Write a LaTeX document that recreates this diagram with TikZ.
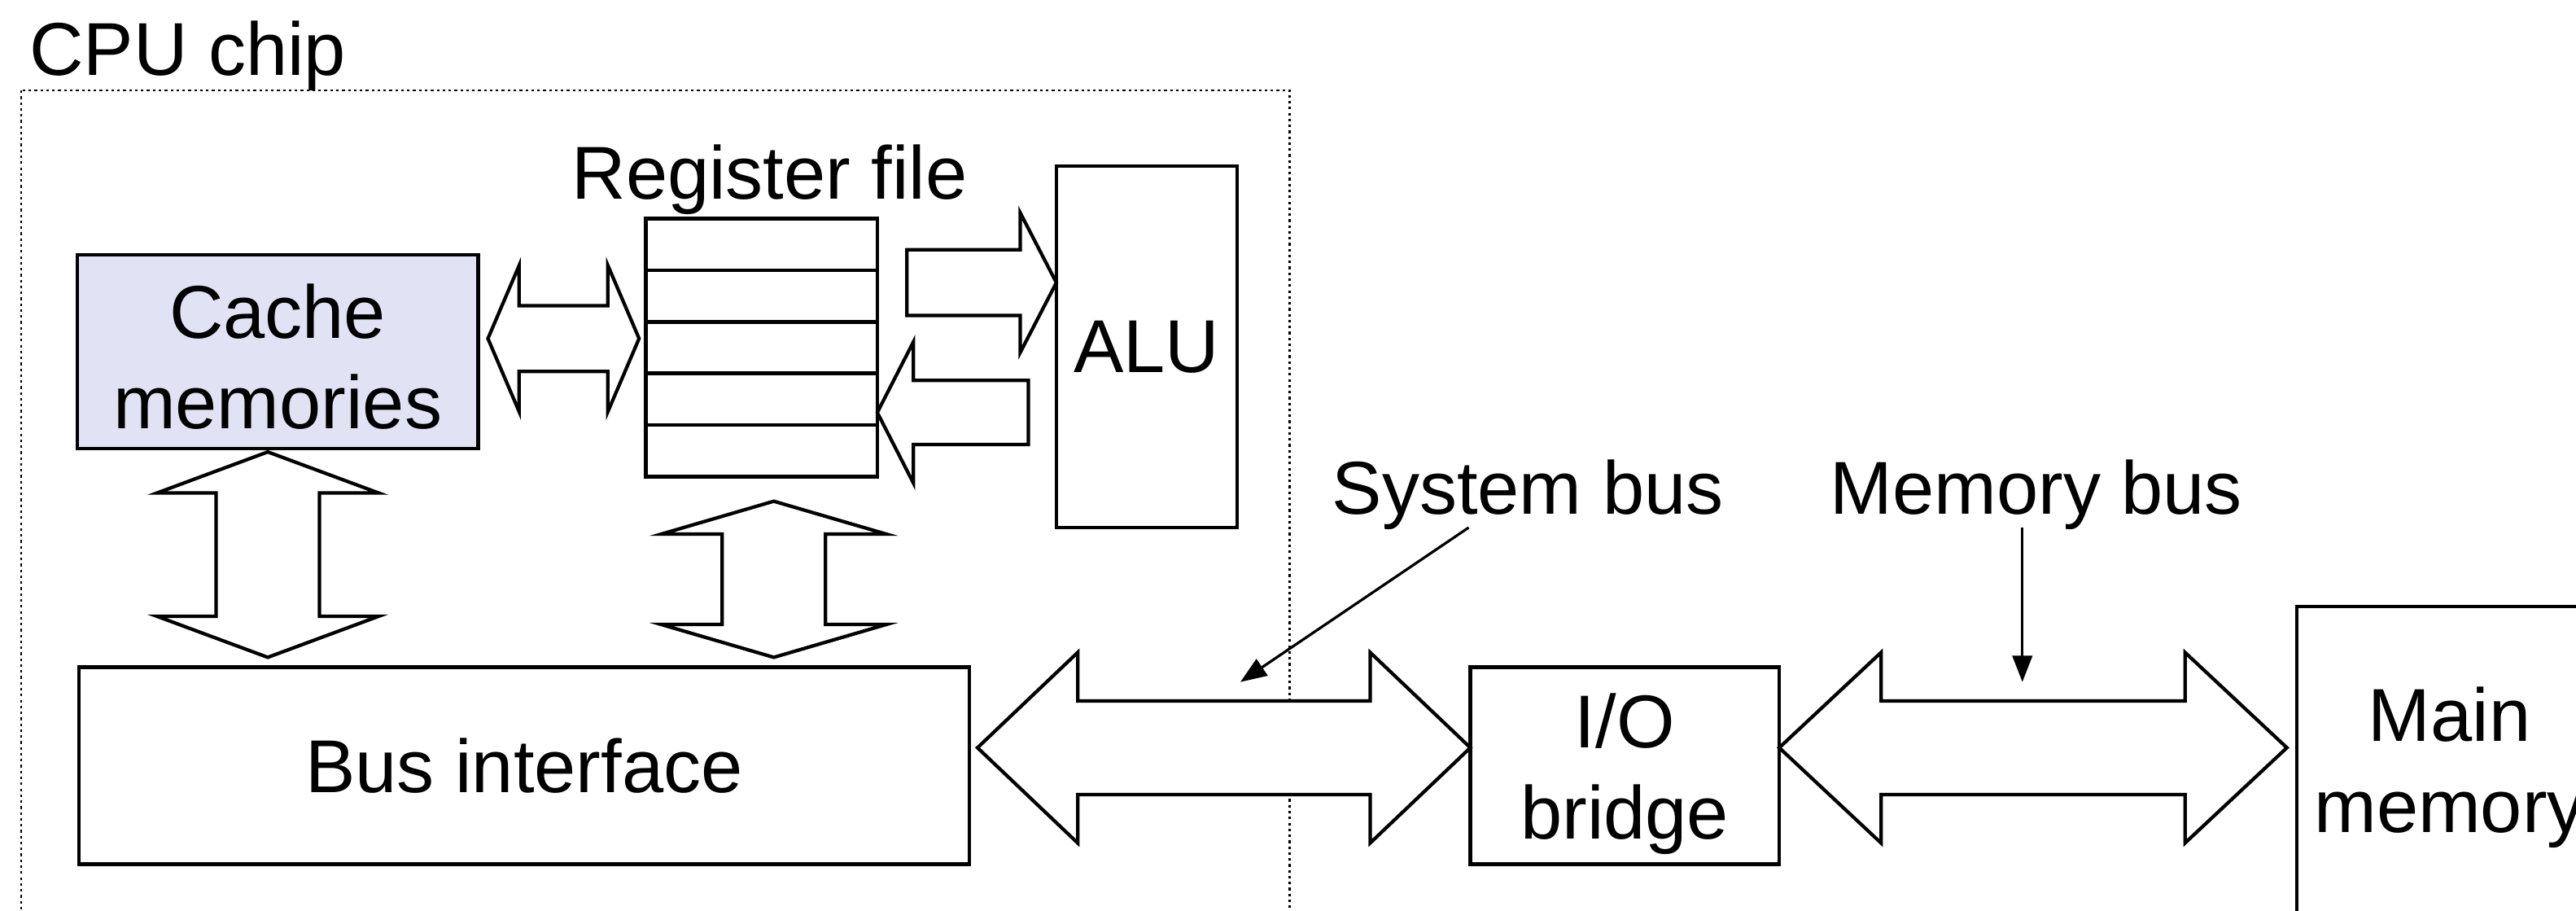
\documentclass[tikz,border=0pt]{standalone}
\usepackage{fontspec}
\setmainfont{Liberation Sans}
\usetikzlibrary{calc,arrows.meta}
\definecolor{cachefill}{RGB}{226,226,245}
\newcommand\hbus[5]{\draw[blk] (#1) -- ($(#1)+(#5,#4)$) -- ($(#1)+(#5,#3)$) -- ($(#2)+(-#5,#3)$) -- ($(#2)+(-#5,#4)$) -- (#2) -- ($(#2)+(-#5,-#4)$) -- ($(#2)+(-#5,-#3)$) -- ($(#1)+(#5,-#3)$) -- ($(#1)+(#5,-#4)$) -- cycle;}
\newcommand\vbus[5]{\draw[blk] (#1) -- ($(#1)+(#4,-#5)$) -- ($(#1)+(#3,-#5)$) -- ($(#2)+(#3,#5)$) -- ($(#2)+(#4,#5)$) -- (#2) -- ($(#2)+(-#4,#5)$) -- ($(#2)+(-#3,#5)$) -- ($(#1)+(-#3,-#5)$) -- ($(#1)+(-#4,-#5)$) -- cycle;}
\newcommand\rblk[5]{\draw[blk] ($(#1)+(0,#3)$) -- ($(#2)+(-#5,#3)$) -- ($(#2)+(-#5,#4)$) -- (#2) -- ($(#2)+(-#5,-#4)$) -- ($(#2)+(-#5,-#3)$) -- ($(#1)+(0,-#3)$) -- cycle;}
\newcommand\lblk[5]{\draw[blk] ($(#1)+(0,#3)$) -- ($(#2)+(#5,#3)$) -- ($(#2)+(#5,#4)$) -- (#2) -- ($(#2)+(#5,-#4)$) -- ($(#2)+(#5,-#3)$) -- ($(#1)+(0,-#3)$) -- cycle;}
\tikzset{
  txt/.style={font=\fontsize{22.8}{27.7}\selectfont, inner sep=0pt, outer sep=0pt},
  box/.style={txt, draw, line width=1.15pt, rectangle, align=center},
  inner/.style={txt, align=center},
  blk/.style={draw, fill=white, line width=1.05pt, line join=miter},
  chip/.style={draw, line width=0.6pt, dash pattern=on 0.8pt off 1pt},
  pointer/.style={draw, line width=0.8pt, -{Triangle[length=8pt,width=6pt]}}
}
\begin{document}
\begin{tikzpicture}[x=0.5pt,y=0.5pt]
\useasboundingbox (0,0) rectangle (1568,-554);
\clip (0,0) rectangle (1568,-554);
% CPU chip region
\coordinate (chipnw) at (13,-55);
\coordinate (chipse) at (785,-600);
\draw[chip] (chipnw) rectangle (chipse);
\node[txt, anchor=base west] (chiplabel) at (18,-46) {CPU chip};
% components
\node[box, fill=cachefill, minimum width=122pt, minimum height=59pt,
  label={[inner, yshift=-1.5pt]center:{Cache\\memories}}] (cache) at (169,-214) {};
\node[box, minimum width=70.5pt, minimum height=78.5pt] (rf) at (463.5,-211.5) {};
\foreach \k in {0.2,0.4,0.6,0.8}
  \draw[line width=1.15pt] ($(rf.north west)!\k!(rf.south west)$) -- ($(rf.north east)!\k!(rf.south east)$);
\node[txt, anchor=base] (rflabel) at (468.5,-121) {Register file};
\node[box, minimum width=55pt, minimum height=110pt] (alu) at (698,-211) {ALU};
\node[box, minimum width=271pt, minimum height=60pt] (bi) at (319,-466) {Bus interface};
\node[box, minimum width=94pt, minimum height=60pt,
  label={[inner, yshift=-2.5pt]center:{I/O\\bridge}}] (io) at (989,-466) {};
\node[box, minimum width=93pt, minimum height=96pt,
  label={[inner, yshift=-1pt]center:{Main\\memory}}] (mm) at (1491,-465) {};
% block arrows
\coordinate (crL) at (297,-206);
\coordinate (crR) at (389,-206);
\hbus{crL}{crR}{20}{44.5}{19}
\coordinate (raT) at (552,-172);
\coordinate (raH) at (643,-172);
\rblk{raT}{raH}{20}{42.5}{22}
\coordinate (laT) at (626,-251);
\coordinate (laH) at (534,-251);
\lblk{laT}{laH}{19.5}{43}{22}
\coordinate (cbT) at (163,-275);
\coordinate (cbB) at (163,-400);
\vbus{cbT}{cbB}{31.5}{67.5}{25}
\coordinate (rbT) at (471,-305);
\coordinate (rbB) at (471,-400);
\vbus{rbT}{rbB}{31.5}{68.5}{20}
\coordinate (sbL) at (595,-455);
\coordinate (sbR) at (895,-455);
\hbus{sbL}{sbR}{28.5}{58}{61}
\coordinate (mbL) at (1083,-455);
\coordinate (mbR) at (1392,-455);
\hbus{mbL}{mbR}{28.5}{58}{62}
% bus labels
\node[txt, anchor=base] (sblabel) at (930,-313) {System bus};
\node[txt, anchor=base] (mblabel) at (1239.5,-313) {Memory bus};
\coordinate (sbp1) at (894,-321);
\coordinate (sbp2) at (755,-415);
\draw[pointer] (sbp1) -- (sbp2);
\coordinate (mbp1) at (1231,-321);
\coordinate (mbp2) at (1231,-415);
\draw[pointer] (mbp1) -- (mbp2);
\end{tikzpicture}
\end{document}
